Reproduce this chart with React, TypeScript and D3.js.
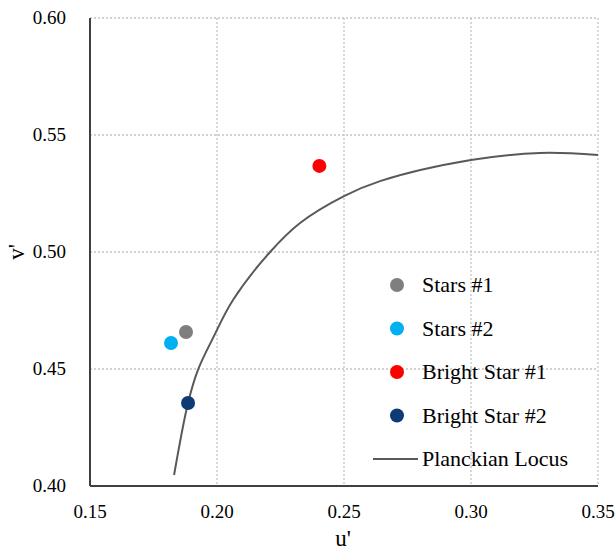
import React from "react";
import * as d3 from "d3";

const xTicks = [0.15, 0.2, 0.25, 0.3, 0.35];
const yTicks = [0.4, 0.45, 0.5, 0.55, 0.6];

const seriesNames = ["Stars #1", "Stars #2", "Bright Star #1", "Bright Star #2"];
const seriesColors = ["#7f7f7f", "#00b0f0", "#ff0000", "#0e3b75"];
const seriesU = [0.1878, 0.1819, 0.2403, 0.1886];
const seriesV = [0.4658, 0.4611, 0.5368, 0.4355];

const locusU = [0.1831, 0.1886, 0.1925, 0.1984, 0.2063, 0.2209, 0.2327, 0.25, 0.2642, 0.3, 0.3272, 0.35];
const locusV = [0.4047, 0.4355, 0.4496, 0.4632, 0.4795, 0.5, 0.5124, 0.5239, 0.5303, 0.5393, 0.5423, 0.5415];
const locusName = "Planckian Locus";

export default function App() {
  const W = 615, H = 552;
  const x = d3.scaleLinear().domain([0.15, 0.35]).range([90, 598]);
  const y = d3.scaleLinear().domain([0.4, 0.6]).range([486, 18]);
  const fmt = d3.format(".2f");
  const font = "Times New Roman";
  const line = d3
    .line<number>()
    .x((_, i) => x(locusU[i]))
    .y((_, i) => y(locusV[i]))
    .curve(d3.curveCatmullRom.alpha(0.5));
  const path = line(locusU) || "";
  const legX = 397, legTextX = 422, legY0 = 285, legStep = 43.5;

  return (
    <svg width={W} height={H} style={{ position: "absolute", left: 0, top: 0 }}>
      <rect x={0} y={0} width={W} height={H} fill="#fff" />
      {xTicks.slice(1).map((t) => (
        <line key={"gx" + t} x1={x(t)} x2={x(t)} y1={y(0.6)} y2={y(0.4)} stroke="#c4c4c4" strokeWidth={1.3} strokeDasharray="2,2" />
      ))}
      {yTicks.slice(1).map((t) => (
        <line key={"gy" + t} x1={x(0.15)} x2={x(0.35)} y1={y(t)} y2={y(t)} stroke="#c4c4c4" strokeWidth={1.3} strokeDasharray="2,2" />
      ))}
      <line x1={x(0.15)} x2={x(0.15)} y1={y(0.6)} y2={y(0.4)} stroke="#404040" strokeWidth={2} />
      <line x1={x(0.15)} x2={x(0.35)} y1={y(0.4)} y2={y(0.4)} stroke="#404040" strokeWidth={2} />
      {xTicks.map((t) => (
        <text key={"xt" + t} x={x(t)} y={518} textAnchor="middle" fontFamily={font} fontSize={19}>
          {fmt(t)}
        </text>
      ))}
      {yTicks.map((t) => (
        <text key={"yt" + t} x={66} y={y(t) + 6} textAnchor="end" fontFamily={font} fontSize={19}>
          {fmt(t)}
        </text>
      ))}
      <text x={343} y={546} textAnchor="middle" fontFamily={font} fontSize={23}>u'</text>
      <text transform={`translate(24,${y(0.5)}) rotate(-90)`} textAnchor="middle" fontFamily={font} fontSize={23}>v'</text>
      <path d={path} fill="none" stroke="#595959" strokeWidth={2} />
      {seriesNames.map((n, i) => (
        <circle key={n} cx={x(seriesU[i])} cy={y(seriesV[i])} r={7} fill={seriesColors[i]} />
      ))}
      {seriesNames.map((n, i) => (
        <g key={"lg" + n}>
          <circle cx={legX} cy={legY0 + i * legStep} r={7} fill={seriesColors[i]} />
          <text x={legTextX} y={legY0 + i * legStep + 7} fontFamily={font} fontSize={22}>
            {n}
          </text>
        </g>
      ))}
      <line x1={373} x2={418} y1={legY0 + 4 * legStep} y2={legY0 + 4 * legStep} stroke="#595959" strokeWidth={2} />
      <text x={legTextX} y={legY0 + 4 * legStep + 7} fontFamily={font} fontSize={22}>
        {locusName}
      </text>
    </svg>
  );
}
